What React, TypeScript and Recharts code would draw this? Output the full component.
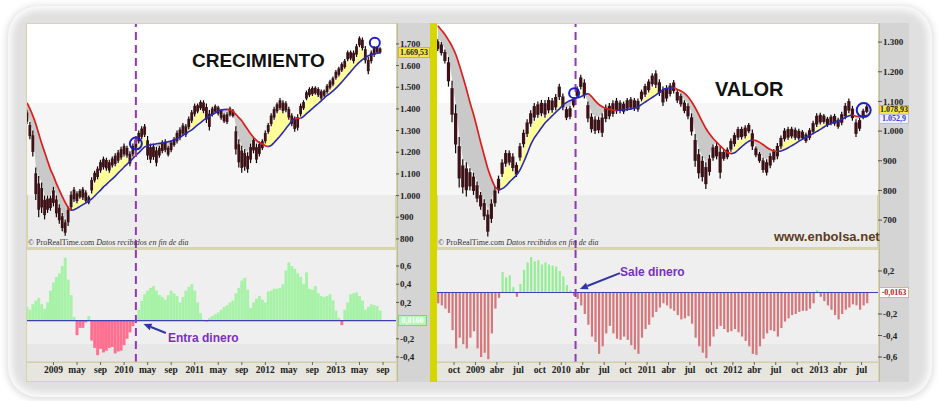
import React from 'react';
import { ComposedChart, Bar, Line, Area, XAxis, YAxis, ReferenceLine, ReferenceDot, Cell } from 'recharts';

// time axis: months since Jan 2009, one point every half month
const STEP = 0.5;
const CRE_START = -4.5;
const VAL_START = -5.25;

// ---------- CRECIMIENTO (left) ----------
const CRE_HIGH = [
  1395, 1340, 1300, 1130, 1090, 1060, 1000, 1000, 1000, 1040,
  1000, 960, 920, 890, 950, 1020, 1040, 1020, 1030, 1040,
  1025, 1000, 1085, 1115, 1135, 1165, 1180, 1175, 1165, 1180,
  1195, 1210, 1225, 1240, 1230, 1205, 1240, 1270, 1300, 1320,
  1330, 1275, 1240, 1240, 1225, 1230, 1255, 1260, 1230, 1255,
  1270, 1300, 1315, 1335, 1330, 1365, 1395, 1425, 1425, 1440,
  1440, 1425, 1395, 1410, 1420, 1415, 1400, 1380, 1385, 1410,
  1400, 1320, 1260, 1230, 1215, 1200, 1240, 1270, 1240, 1250,
  1260, 1300, 1335, 1380, 1410, 1430, 1450, 1440, 1435, 1410,
  1380, 1365, 1375, 1425, 1440, 1485, 1500, 1505, 1505, 1500,
  1490, 1490, 1515, 1535, 1550, 1580, 1595, 1615, 1630, 1670,
  1670, 1670, 1700, 1735, 1730, 1690, 1640, 1670, 1690, 1690,
  1685,
];
const CRE_LOW = [
  1330, 1260, 1180, 980, 900, 920, 890, 920, 930, 950,
  900, 870, 835, 815, 860, 930, 970, 965, 985, 980,
  965, 960, 1010, 1060, 1075, 1105, 1120, 1115, 1105, 1130,
  1135, 1150, 1165, 1180, 1175, 1135, 1180, 1210, 1240, 1260,
  1270, 1165, 1150, 1165, 1135, 1175, 1195, 1200, 1180, 1200,
  1225, 1240, 1255, 1275, 1270, 1305, 1335, 1365, 1380, 1395,
  1380, 1335, 1300, 1365, 1380, 1370, 1350, 1335, 1330, 1365,
  1360, 1190, 1130, 1105, 1115, 1105, 1150, 1195, 1150, 1180,
  1210, 1240, 1285, 1320, 1350, 1380, 1395, 1380, 1385, 1350,
  1320, 1295, 1300, 1365, 1395, 1440, 1455, 1460, 1465, 1455,
  1440, 1455, 1470, 1490, 1505, 1535, 1550, 1570, 1585, 1620,
  1625, 1610, 1640, 1685, 1670, 1610, 1560, 1610, 1640, 1655,
  1655,
];
const CRE_MA = [
  1428, 1400, 1368, 1330, 1285, 1240, 1200, 1160, 1120, 1090,
  1055, 1025, 995, 968, 945, 932, 935, 942, 950, 958,
  966, 975, 985, 998, 1012, 1025, 1040, 1052, 1065, 1077,
  1090, 1105, 1118, 1132, 1145, 1158, 1172, 1185, 1198, 1212,
  1225, 1230, 1234, 1237, 1239, 1241, 1243, 1245, 1248, 1252,
  1256, 1263, 1270, 1278, 1287, 1295, 1303, 1315, 1326, 1337,
  1348, 1358, 1366, 1374, 1382, 1390, 1395, 1397, 1398, 1395,
  1388, 1375, 1360, 1345, 1325, 1305, 1285, 1268, 1255, 1245,
  1238, 1230, 1226, 1232, 1245, 1260, 1275, 1292, 1310, 1327,
  1345, 1358, 1357, 1356, 1366, 1378, 1390, 1402, 1414, 1425,
  1437, 1450, 1462, 1472, 1483, 1496, 1510, 1524, 1540, 1556,
  1572, 1588, 1603, 1616, 1628, 1638, 1645, 1650, 1654, 1657,
  1660,
];
const CRE_FLOW = [
  0.15, 0.12, 0.18, 0.22, 0.25, 0.18, 0.13, 0.2, 0.33, 0.42,
  0.48, 0.52, 0.6, 0.69, 0.45, 0.28, 0.04, -0.16, -0.08, -0.08,
  -0.02, 0.05, -0.22, -0.3, -0.38, -0.31, -0.35, -0.33, -0.3, -0.29,
  -0.36, -0.34, -0.33, -0.27, -0.2, -0.13, -0.06, 0.01, 0.12, 0.22,
  0.29, 0.33, 0.36, 0.38, 0.33, 0.28, 0.26, 0.23, 0.28, 0.33,
  0.3, 0.27, 0.2, 0.26, 0.33, 0.37, 0.4, 0.33, 0.2, 0.08,
  0.01, -0.01, 0.03, 0.05, 0.07, 0.09, 0.12, 0.15, 0.17, 0.2,
  0.22, 0.3, 0.36, 0.44, 0.47, 0.34, 0.14, 0.2, 0.24, 0.27,
  0.23, 0.2, 0.32, 0.33, 0.35, 0.35, 0.36, 0.4, 0.55, 0.64,
  0.6, 0.57, 0.52, 0.48, 0.4, 0.53, 0.35, 0.34, 0.38, 0.3,
  0.27, 0.26, 0.27, 0.29, 0.22, 0.11, 0.03, -0.05, 0.12, 0.2,
  0.29, 0.3, 0.31, 0.27, 0.22, 0.12, 0.15, 0.18, 0.17, 0.16,
  0.11,
];

// ---------- VALOR (right) ----------
const VAL_HIGH = [
  1310, 1300, 1275, 1250, 1170, 1090, 980, 905, 895, 875,
  860, 830, 795, 770, 735, 770, 812, 850, 905, 936,
  935, 925, 895, 960, 1005, 1040, 1070, 1095, 1100, 1105,
  1105, 1115, 1112, 1125, 1160, 1127, 1082, 1085, 1115, 1150,
  1190, 1175, 1100, 1060, 1050, 1048, 1060, 1090, 1095, 1104,
  1112, 1104, 1100, 1112, 1115, 1112, 1110, 1140, 1160, 1175,
  1195, 1205, 1175, 1150, 1155, 1162, 1172, 1140, 1127, 1104,
  1094, 1060, 990, 940, 915, 895, 920, 955, 960, 950,
  936, 945, 975, 995, 1015, 1015, 1020, 1027, 1005, 948,
  930, 910, 905, 925, 940, 960, 985, 1010, 1015, 1015,
  1012, 1008, 1004, 995, 1010, 1035, 1060, 1062, 1058, 1048,
  1055, 1058, 1045, 1065, 1095, 1110, 1085, 1040, 1045, 1075,
  1088,
];
const VAL_LOW = [
  1270, 1255, 1228, 1150, 1030, 925, 810, 790, 780, 800,
  785, 760, 735, 700, 645, 690, 745, 790, 845, 880,
  885, 865, 845, 900, 945, 980, 1015, 1035, 1045, 1050,
  1045, 1060, 1062, 1070, 1105, 1070, 1037, 1040, 1080, 1112,
  1140, 1110, 1030, 995, 990, 993, 980, 1030, 1040, 1048,
  1058, 1060, 1058, 1068, 1071, 1068, 1065, 1100, 1115, 1130,
  1150, 1145, 1118, 1085, 1100, 1117, 1127, 1095, 1082, 1060,
  1040, 985, 880, 840, 830, 805, 850, 900, 905, 840,
  900, 905, 930, 948, 970, 972, 975, 993, 936, 912,
  893, 860, 850, 875, 895, 905, 940, 965, 970, 975,
  970, 968, 970, 960, 970, 990, 1014, 1022, 1025, 1014,
  1020, 1018, 1008, 1020, 1040, 1060, 1035, 980, 1000, 1040,
  1060,
];
const VAL_MA = [
  1355, 1340, 1325, 1306, 1285, 1258, 1222, 1182, 1140, 1095,
  1054, 1008, 960, 915, 872, 838, 812, 802, 806, 815,
  828, 840, 852, 870, 896, 925, 955, 978, 995, 1012,
  1028, 1040, 1052, 1064, 1075, 1088, 1097, 1103, 1107, 1112,
  1116, 1122, 1127, 1116, 1102, 1090, 1082, 1076, 1073, 1071,
  1070, 1071, 1072, 1073, 1075, 1078, 1082, 1090, 1098, 1106,
  1114, 1122, 1131, 1140, 1144, 1145, 1146, 1140, 1135, 1127,
  1115, 1098, 1078, 1055, 1030, 1008, 990, 975, 962, 950,
  938, 928, 924, 927, 937, 948, 958, 966, 970, 968,
  962, 954, 945, 938, 933, 931, 933, 938, 944, 951,
  958, 966, 973, 979, 985, 992, 999, 1006, 1014, 1021,
  1026, 1030, 1034, 1040, 1046, 1052, 1054, 1050, 1049, 1051,
  1053,
];
const VAL_FLOW = [
  -0.1, -0.12, -0.15, -0.19, -0.35, -0.52, -0.42, -0.48, -0.52, -0.42,
  -0.36, -0.52, -0.6, -0.56, -0.62, -0.38, -0.15, -0.05, 0.19, 0.14,
  0.16, 0.05, -0.04, 0.08, 0.21, 0.28, 0.33, 0.29, 0.3, 0.26,
  0.28, 0.26, 0.25, 0.24, 0.2, 0.15, 0.07, 0.02, -0.03, -0.06,
  -0.12, -0.2, -0.3, -0.41, -0.46, -0.57, -0.5, -0.38, -0.31, -0.38,
  -0.43, -0.44, -0.41, -0.44, -0.49, -0.53, -0.57, -0.42, -0.34, -0.3,
  -0.23, -0.18, -0.14, -0.1, -0.12, -0.15, -0.17, -0.21, -0.25, -0.24,
  -0.22, -0.29, -0.42, -0.5, -0.56, -0.61, -0.5, -0.41, -0.34, -0.31,
  -0.34, -0.37, -0.36, -0.34, -0.37, -0.41, -0.45, -0.5, -0.57, -0.58,
  -0.5, -0.43, -0.38, -0.35, -0.36, -0.41, -0.33, -0.27, -0.24, -0.21,
  -0.2, -0.18, -0.17, -0.17, -0.15, -0.1, 0.02, -0.04, -0.08, -0.12,
  -0.16, -0.21, -0.25, -0.2, -0.16, -0.14, -0.11, -0.12, -0.16, -0.12,
  -0.1,
];

// ---------- axes ----------
const CRE_MONTH_TICKS = [0, 4, 8, 12, 16, 20, 24, 28, 32, 36, 40, 44, 48, 52, 56];
const CRE_MONTH_LABELS = ['2009', 'may', 'sep', '2010', 'may', 'sep', '2011', 'may', 'sep', '2012', 'may', 'sep', '2013', 'may', 'sep'];
const VAL_MONTH_TICKS = [-3, 0, 3, 6, 9, 12, 15, 18, 21, 24, 27, 30, 33, 36, 39, 42, 45, 48, 51, 54];
const VAL_MONTH_LABELS = ['oct', '2009', 'abr', 'jul', 'oct', '2010', 'abr', 'jul', 'oct', '2011', 'abr', 'jul', 'oct', '2012', 'abr', 'jul', 'oct', '2013', 'abr', 'jul'];
const CRE_PRICE_TICKS = [800, 900, 1000, 1100, 1200, 1300, 1400, 1500, 1600, 1700];
const VAL_PRICE_TICKS = [700, 800, 900, 1000, 1100, 1200, 1300];
const CRE_FLOW_TICKS = [-0.4, -0.2, 0.2, 0.4, 0.6];
const VAL_FLOW_TICKS = [-0.6, -0.4, -0.2, 0.2];
const SIGNAL_MONTH = 14; // marzo 2010

type Row = {
  t: number; range: [number, number]; maUp: number | null; maDown: number | null;
  gain: [number, number]; loss: [number, number]; flow: number;
};

function buildRows(start: number, high: number[], low: number[], ma: number[], flow: number[]): Row[] {
  return high.map((h, i) => {
    const l = low[i];
    const m = ma[i];
    const downIn = i > 0 && ma[i] < ma[i - 1];
    const downOut = i < ma.length - 1 && ma[i + 1] < ma[i];
    const upIn = i > 0 && ma[i] >= ma[i - 1];
    const upOut = i < ma.length - 1 && ma[i + 1] >= ma[i];
    return {
      t: start + i * STEP,
      range: [l, h],
      maUp: upIn || upOut ? m : null,
      maDown: downIn || downOut ? m : null,
      gain: [m, Math.max(m, l)],
      loss: [Math.min(m, h), m],
      flow: flow[i],
    };
  });
}

const creRows = buildRows(CRE_START, CRE_HIGH, CRE_LOW, CRE_MA, CRE_FLOW);
const valRows = buildRows(VAL_START, VAL_HIGH, VAL_LOW, VAL_MA, VAL_FLOW);

const fmtThousands = (v: number) => (v >= 1000 ? `${Math.floor(v / 1000)}.${String(v % 1000).padStart(3, '0')}` : String(v));
const fmtFlow = (v: number) => v.toFixed(1).replace('.', ',');
const labelFrom = (ticks: number[], labels: string[]) => (v: number) => {
  const k = ticks.indexOf(v);
  return k >= 0 ? labels[k] : '';
};

const SERIF = '"Liberation Serif", "DejaVu Serif", serif';
const SANS = '"Liberation Sans", Arial, sans-serif';
const axisTick = { fontSize: 9, fontFamily: SERIF, fontWeight: 'bold', fill: '#222' };

const Candle = (props: any) => {
  const { x, y, width, height } = props;
  if (x == null || y == null || height == null) return <g />;
  const top = height < 0 ? y + height : y;
  const h = Math.max(1, Math.abs(height));
  const cx = x + width / 2;
  return (
    <g>
      <line x1={cx} x2={cx} y1={top} y2={top + h} stroke="#100505" strokeWidth={1.2} />
      <rect x={x} y={top + h * 0.18} width={width} height={h * 0.64} fill="#3d1216" />
    </g>
  );
};

const Arrow = (p: any) => {
  const { x1, y1, x2, y2 } = p;
  if ([x1, y1, x2, y2].some((v) => v == null)) return <g />;
  const ang = Math.atan2(y2 - y1, x2 - x1);
  const L = 8;
  const W = 3.5;
  const bx = x2 - L * Math.cos(ang);
  const by = y2 - L * Math.sin(ang);
  const pts = `${x2},${y2} ${bx + W * Math.sin(ang)},${by - W * Math.cos(ang)} ${bx - W * Math.sin(ang)},${by + W * Math.cos(ang)}`;
  return (
    <g>
      <line x1={x1} y1={y1} x2={bx} y2={by} stroke="#3434a6" strokeWidth={2} />
      <polygon points={pts} fill="#3434a6" />
    </g>
  );
};

type PriceProps = {
  rows: Row[]; width: number; axisWidth: number; xDomain: [number, number]; yDomain: [number, number];
  yTicks: number[]; candleWidth: number; tickSize: number; dots: { x: number; y: number; r: number }[];
};

function PriceChart({ rows, width, axisWidth, xDomain, yDomain, yTicks, candleWidth, tickSize, dots }: PriceProps) {
  return (
    <ComposedChart width={width} height={224} data={rows} margin={{ top: 0, right: 0, bottom: 0, left: 0 }}>
      <XAxis type="number" dataKey="t" domain={xDomain} hide allowDataOverflow />
      <YAxis
        orientation="right" width={axisWidth} domain={yDomain} ticks={yTicks} interval={0}
        tickFormatter={fmtThousands} axisLine={false} tickLine={{ stroke: '#555' }} tickSize={tickSize} tickMargin={1}
        tick={axisTick} allowDataOverflow
      />
      <Area type="linear" dataKey="gain" stroke="none" fill="#ffff99" fillOpacity={1} isAnimationActive={false} />
      <Area type="linear" dataKey="loss" stroke="none" fill="#c9c9c9" fillOpacity={1} isAnimationActive={false} />
      <Bar dataKey="range" barSize={candleWidth} shape={Candle} isAnimationActive={false} />
      <Line type="monotone" dataKey="maDown" stroke="#dc1e1e" strokeWidth={1.7} dot={false} connectNulls={false} isAnimationActive={false} />
      <Line type="monotone" dataKey="maUp" stroke="#2a2ab4" strokeWidth={1.6} dot={false} connectNulls={false} isAnimationActive={false} />
      <ReferenceLine x={SIGNAL_MONTH} stroke="#9436b8" strokeWidth={2} strokeDasharray="8 5" />
      {dots.map((d, i) => (
        <ReferenceDot key={i} x={d.x} y={d.y} r={d.r} fill="none" stroke="#1e1ec4" strokeWidth={2} ifOverflow="visible" />
      ))}
    </ComposedChart>
  );
}

type FlowProps = {
  rows: Row[]; width: number; axisWidth: number; xDomain: [number, number]; yDomain: [number, number];
  yTicks: number[]; xTicks: number[]; xLabels: string[]; barWidth: number; pos: string; neg: string;
  tickSize: number; arrow: { x: number; y: number }[];
};

function FlowChart({ rows, width, axisWidth, xDomain, yDomain, yTicks, xTicks, xLabels, barWidth, pos, neg, tickSize, arrow }: FlowProps) {
  return (
    <ComposedChart width={width} height={131} data={rows} margin={{ top: 0, right: 0, bottom: 0, left: 0 }}>
      <XAxis
        type="number" dataKey="t" domain={xDomain} ticks={xTicks} interval={0} height={19} allowDataOverflow
        tickFormatter={labelFrom(xTicks, xLabels)} axisLine={{ stroke: '#cfcb9e' }} tickLine={{ stroke: '#666' }}
        tickSize={3} tickMargin={1} tick={{ ...axisTick, fontSize: 9.5 }}
      />
      <YAxis
        orientation="right" width={axisWidth} domain={yDomain} ticks={yTicks} interval={0} tickFormatter={fmtFlow}
        axisLine={false} tickLine={{ stroke: '#555' }} tickSize={tickSize} tickMargin={1} tick={axisTick} allowDataOverflow
      />
      <Bar dataKey="flow" barSize={barWidth} isAnimationActive={false}>
        {rows.map((r, i) => (
          <Cell key={i} fill={r.flow >= 0 ? pos : neg} />
        ))}
      </Bar>
      <ReferenceLine y={0} stroke="#3f3fb8" strokeWidth={1.2} />
      <ReferenceLine x={SIGNAL_MONTH} stroke="#9436b8" strokeWidth={2} strokeDasharray="8 5" />
      <ReferenceLine segment={arrow} shape={Arrow} ifOverflow="visible" />
    </ComposedChart>
  );
}

const abs = (left: number, top: number, width: number, height: number, extra: React.CSSProperties = {}): React.CSSProperties => ({
  position: 'absolute', left, top, width, height, ...extra,
});

const priceBg = (left: number, width: number) => (
  <div style={abs(left, 24, width, 224, { background: '#ececec', boxShadow: 'inset 0 0 0 1px #d8d4a8' })}>
    <div style={abs(0, 0, width, 79, { background: '#ffffff' })} />
    <div style={abs(0, 79, width, 92, { background: '#f6f6f6' })} />
  </div>
);

const flowBg = (left: number, width: number) => (
  <div style={abs(left, 250, width, 112, { background: '#efefef' })}>
    <div style={abs(0, 94, width, 18, { background: '#e7e7e7' })} />
  </div>
);

const copyright = (left: number) => (
  <div style={abs(left, 238, 260, 10, { fontFamily: SERIF, fontSize: 8, color: '#333', lineHeight: '10px', whiteSpace: 'nowrap' })}>
    © ProRealTime.com <i>Datos recibidos en fin de dia</i>
  </div>
);

export default function App() {
  return (
    <div style={{ position: 'absolute', left: 0, top: 0, width: 939, height: 401, background: '#ffffff', overflow: 'hidden' }}>
      {/* frame */}
      <div style={abs(8, 6, 924, 391, { borderRadius: 30, background: '#e0e0e0', boxShadow: '0 1px 6px 2px rgba(0,0,0,0.12), inset 0 0 7px 4px rgba(255,255,255,0.9)' })} />
      <div style={abs(26, 23, 882, 359, { background: '#d7d4ae' })} />

      {/* left panel backgrounds */}
      {priceBg(27, 369)}
      {flowBg(27, 369)}
      <div style={abs(27, 363, 369, 18, { background: '#e6e6df' })} />
      <div style={abs(397, 23, 33, 359, { background: '#d4d4d4', borderLeft: '1px solid #bdbba0' })} />
      <div style={abs(430, 23, 7, 359, { background: '#d6d600' })} />

      {/* right panel backgrounds */}
      {priceBg(437, 441)}
      {flowBg(437, 441)}
      <div style={abs(437, 363, 441, 18, { background: '#e6e6df' })} />
      <div style={abs(879, 23, 29, 359, { background: '#d4d4d4', borderLeft: '1px solid #bdbba0' })} />

      {/* charts */}
      <div style={abs(27, 24, 402, 224)}>
        <PriceChart
          rows={creRows} width={402} axisWidth={33} xDomain={[-4.5, 58.2]} yDomain={[758, 1792]}
          yTicks={CRE_PRICE_TICKS} candleWidth={2.8} tickSize={3}
          dots={[{ x: 14, y: 1240, r: 6 }, { x: 54.6, y: 1705, r: 5 }]}
        />
      </div>
      <div style={abs(27, 250, 402, 131)}>
        <FlowChart
          rows={creRows} width={402} axisWidth={33} xDomain={[-4.5, 58.2]} yDomain={[-0.455, 0.776]}
          yTicks={CRE_FLOW_TICKS} xTicks={CRE_MONTH_TICKS} xLabels={CRE_MONTH_LABELS} barWidth={2.9}
          pos="#a6f2a6" neg="#ff6f8f" tickSize={3}
          arrow={[{ x: 19.1, y: -0.136 }, { x: 15.3, y: -0.037 }]}
        />
      </div>
      <div style={abs(437, 24, 471, 224)}>
        <PriceChart
          rows={valRows} width={471} axisWidth={30} xDomain={[-5.38, 56.3]} yDomain={[606, 1361]}
          yTicks={VAL_PRICE_TICKS} candleWidth={3.2} tickSize={4}
          dots={[{ x: 13.8, y: 1128, r: 5 }, { x: 54.3, y: 1071, r: 7 }]}
        />
      </div>
      <div style={abs(437, 250, 471, 131)}>
        <FlowChart
          rows={valRows} width={471} axisWidth={30} xDomain={[-5.38, 56.3]} yDomain={[-0.646, 0.395]}
          yTicks={VAL_FLOW_TICKS} xTicks={VAL_MONTH_TICKS} xLabels={VAL_MONTH_LABELS} barWidth={2.2}
          pos="#94ee94" neg="#d4767a" tickSize={4}
          arrow={[{ x: 20.2, y: 0.18 }, { x: 14.6, y: 0.033 }]}
        />
      </div>

      {/* texts */}
      <div style={abs(192, 51, 160, 22, { fontFamily: SANS, fontWeight: 'bold', fontSize: 19, lineHeight: '19px', color: '#111', whiteSpace: 'nowrap' })}>CRECIMIENTO</div>
      <div style={abs(715, 79, 90, 22, { fontFamily: SANS, fontWeight: 'bold', fontSize: 20, lineHeight: '20px', color: '#111', whiteSpace: 'nowrap' })}>VALOR</div>
      <div style={abs(774, 230, 110, 16, { fontFamily: SANS, fontWeight: 'bold', fontSize: 13, lineHeight: '14px', color: '#5c3c1e', whiteSpace: 'nowrap' })}>www.enbolsa.net</div>
      {copyright(28)}
      {copyright(438)}
      <div style={abs(168, 331, 90, 16, { fontFamily: SANS, fontWeight: 'bold', fontSize: 12, lineHeight: '15px', color: '#7a2fbf', whiteSpace: 'nowrap' })}>Entra dinero</div>
      <div style={abs(620, 265, 90, 16, { fontFamily: SANS, fontWeight: 'bold', fontSize: 12, lineHeight: '15px', color: '#7a2fbf', whiteSpace: 'nowrap' })}>Sale dinero</div>

      {/* last value boxes */}
      <div style={abs(398, 47, 30, 9, { background: '#f3e64a', border: '1px solid #c9b830', fontFamily: SERIF, fontWeight: 'bold', fontSize: 8, lineHeight: '9px', color: '#222', textAlign: 'center' })}>1.669,53</div>
      <div style={abs(398, 315, 27, 9, { background: '#b8f5b8', border: '1px solid #7ad67a', fontFamily: SERIF, fontWeight: 'bold', fontSize: 8, lineHeight: '9px', color: '#ffffff', textAlign: 'center' })}>0,0160</div>
      <div style={abs(879, 105, 28, 8, { background: '#f3e64a', border: '1px solid #c9b830', fontFamily: SERIF, fontWeight: 'bold', fontSize: 8, lineHeight: '8px', color: '#222', textAlign: 'center' })}>1.078,93</div>
      <div style={abs(879, 114, 28, 8, { background: '#eef1ff', border: '1px solid #b8bde8', fontFamily: SERIF, fontWeight: 'bold', fontSize: 8, lineHeight: '8px', color: '#3a3ad0', textAlign: 'center' })}>1.052,9</div>
      <div style={abs(879, 287, 28, 9, { background: '#ffffff', border: '1px solid #d0bd70', fontFamily: SERIF, fontWeight: 'bold', fontSize: 8, lineHeight: '9px', color: '#b02020', textAlign: 'center' })}>-0,0163</div>
    </div>
  );
}
